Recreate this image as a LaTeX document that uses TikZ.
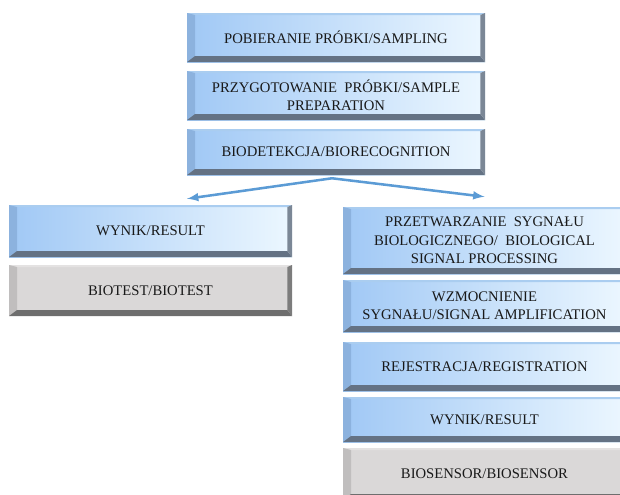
\documentclass[tikz,border=0pt]{standalone}
\usepackage{fontspec}
\setmainfont{Liberation Serif}
\newfontfamily\boxfont{Liberation Serif}
\usepackage{xcolor}
\usetikzlibrary{arrows}
\definecolor{boxblue}{RGB}{160,200,245}
\definecolor{boxlight}{RGB}{236,247,255}
\definecolor{boxgrey}{RGB}{218,216,216}
\definecolor{arrowblue}{RGB}{91,155,213}
\definecolor{edgeblue}{RGB}{140,178,222}
\definecolor{edgetop}{RGB}{170,205,240}
\definecolor{edgedark}{RGB}{100,114,132}
\definecolor{greyedge}{RGB}{192,190,190}
\definecolor{greytop}{RGB}{228,226,226}
\definecolor{greydark}{RGB}{110,110,110}

\begin{document}
\begin{tikzpicture}[x=0.75pt,y=-0.75pt,
bevel/.style n args={4}{path picture={
  \fill[#1] (path picture bounding box.north west) -- (path picture bounding box.north east)
    -- ([xshift=-3.5pt,yshift=-1.5pt]path picture bounding box.north east)
    -- ([xshift=6pt,yshift=-1.5pt]path picture bounding box.north west) -- cycle;
  \fill[#2] (path picture bounding box.north west) -- (path picture bounding box.south west)
    -- ([xshift=6pt,yshift=4.5pt]path picture bounding box.south west)
    -- ([xshift=6pt,yshift=-1.5pt]path picture bounding box.north west) -- cycle;
  \fill[#3] (path picture bounding box.south west) -- (path picture bounding box.south east)
    -- ([xshift=-3.5pt,yshift=4.5pt]path picture bounding box.south east)
    -- ([xshift=6pt,yshift=4.5pt]path picture bounding box.south west) -- cycle;
  \fill[#4] (path picture bounding box.north east) -- (path picture bounding box.south east)
    -- ([xshift=-3.5pt,yshift=4.5pt]path picture bounding box.south east)
    -- ([xshift=-3.5pt,yshift=-1.5pt]path picture bounding box.north east) -- cycle;
}},
boxbase/.style={rectangle, inner sep=0pt, align=center, text=black!90,
  font=\boxfont\fontsize{11}{13.8}\selectfont},
bluebox/.style={boxbase, left color=boxblue, right color=boxlight,
  bevel={edgetop}{edgeblue}{edgedark}{edgedark!85}},
greybox/.style={boxbase, fill=boxgrey,
  bevel={greytop}{greyedge}{greydark}{greydark!90}},
flow/.style={-latex, line width=1.9pt, color=arrowblue}
]
\useasboundingbox (0,0) rectangle (620,494);
\clip (0,0) rectangle (620,494);

%middle column
\node[bluebox, minimum width=223.5pt, minimum height=36.75pt] (sampling) at (336,37.5) {POBIERANIE PRÓBKI/SAMPLING};
\node[bluebox, minimum width=223.5pt, minimum height=36.75pt] (prep) at (336,95.5) {PRZYGOTOWANIE\ \ PRÓBKI/SAMPLE\\PREPARATION};
\node[bluebox, minimum width=223.5pt, minimum height=34.5pt] (detect) at (336,152) {BIODETEKCJA/BIORECOGNITION};

%left column
\node[bluebox, minimum width=212.25pt, minimum height=39pt] (resultL) at (150.5,231) {WYNIK/RESULT};
\node[greybox, minimum width=212.25pt, minimum height=38.25pt] (biotest) at (150.5,290.5) {BIOTEST/BIOTEST};

%right column
\node[bluebox, minimum width=212.25pt, minimum height=50.25pt] (proc) at (484.5,240.5) {PRZETWARZANIE\ \ SYGNAŁU\\BIOLOGICZNEGO/\ \ BIOLOGICAL\\SIGNAL PROCESSING};
\node[bluebox, minimum width=212.25pt, minimum height=39pt] (ampl) at (484.5,306) {WZMOCNIENIE\\SYGNAŁU/SIGNAL AMPLIFICATION};
\node[bluebox, minimum width=212.25pt, minimum height=36.75pt] (reg) at (484.5,366.5) {REJESTRACJA/REGISTRATION};
\node[bluebox, minimum width=212.25pt, minimum height=33.75pt] (resultR) at (484.5,419.5) {WYNIK/RESULT};
\node[greybox, minimum width=212.25pt, minimum height=39pt] (biosensor) at (484.5,474) {BIOSENSOR/BIOSENSOR};

%split arrows
\coordinate (apex) at ([xshift=-3pt,yshift=-2.25pt]detect.south);
\draw[flow] (apex) -- ([xshift=27.4pt,yshift=4.5pt]resultL.north);
\draw[flow] (apex) -- ([yshift=7.5pt]proc.north);

\end{tikzpicture}
\end{document}
